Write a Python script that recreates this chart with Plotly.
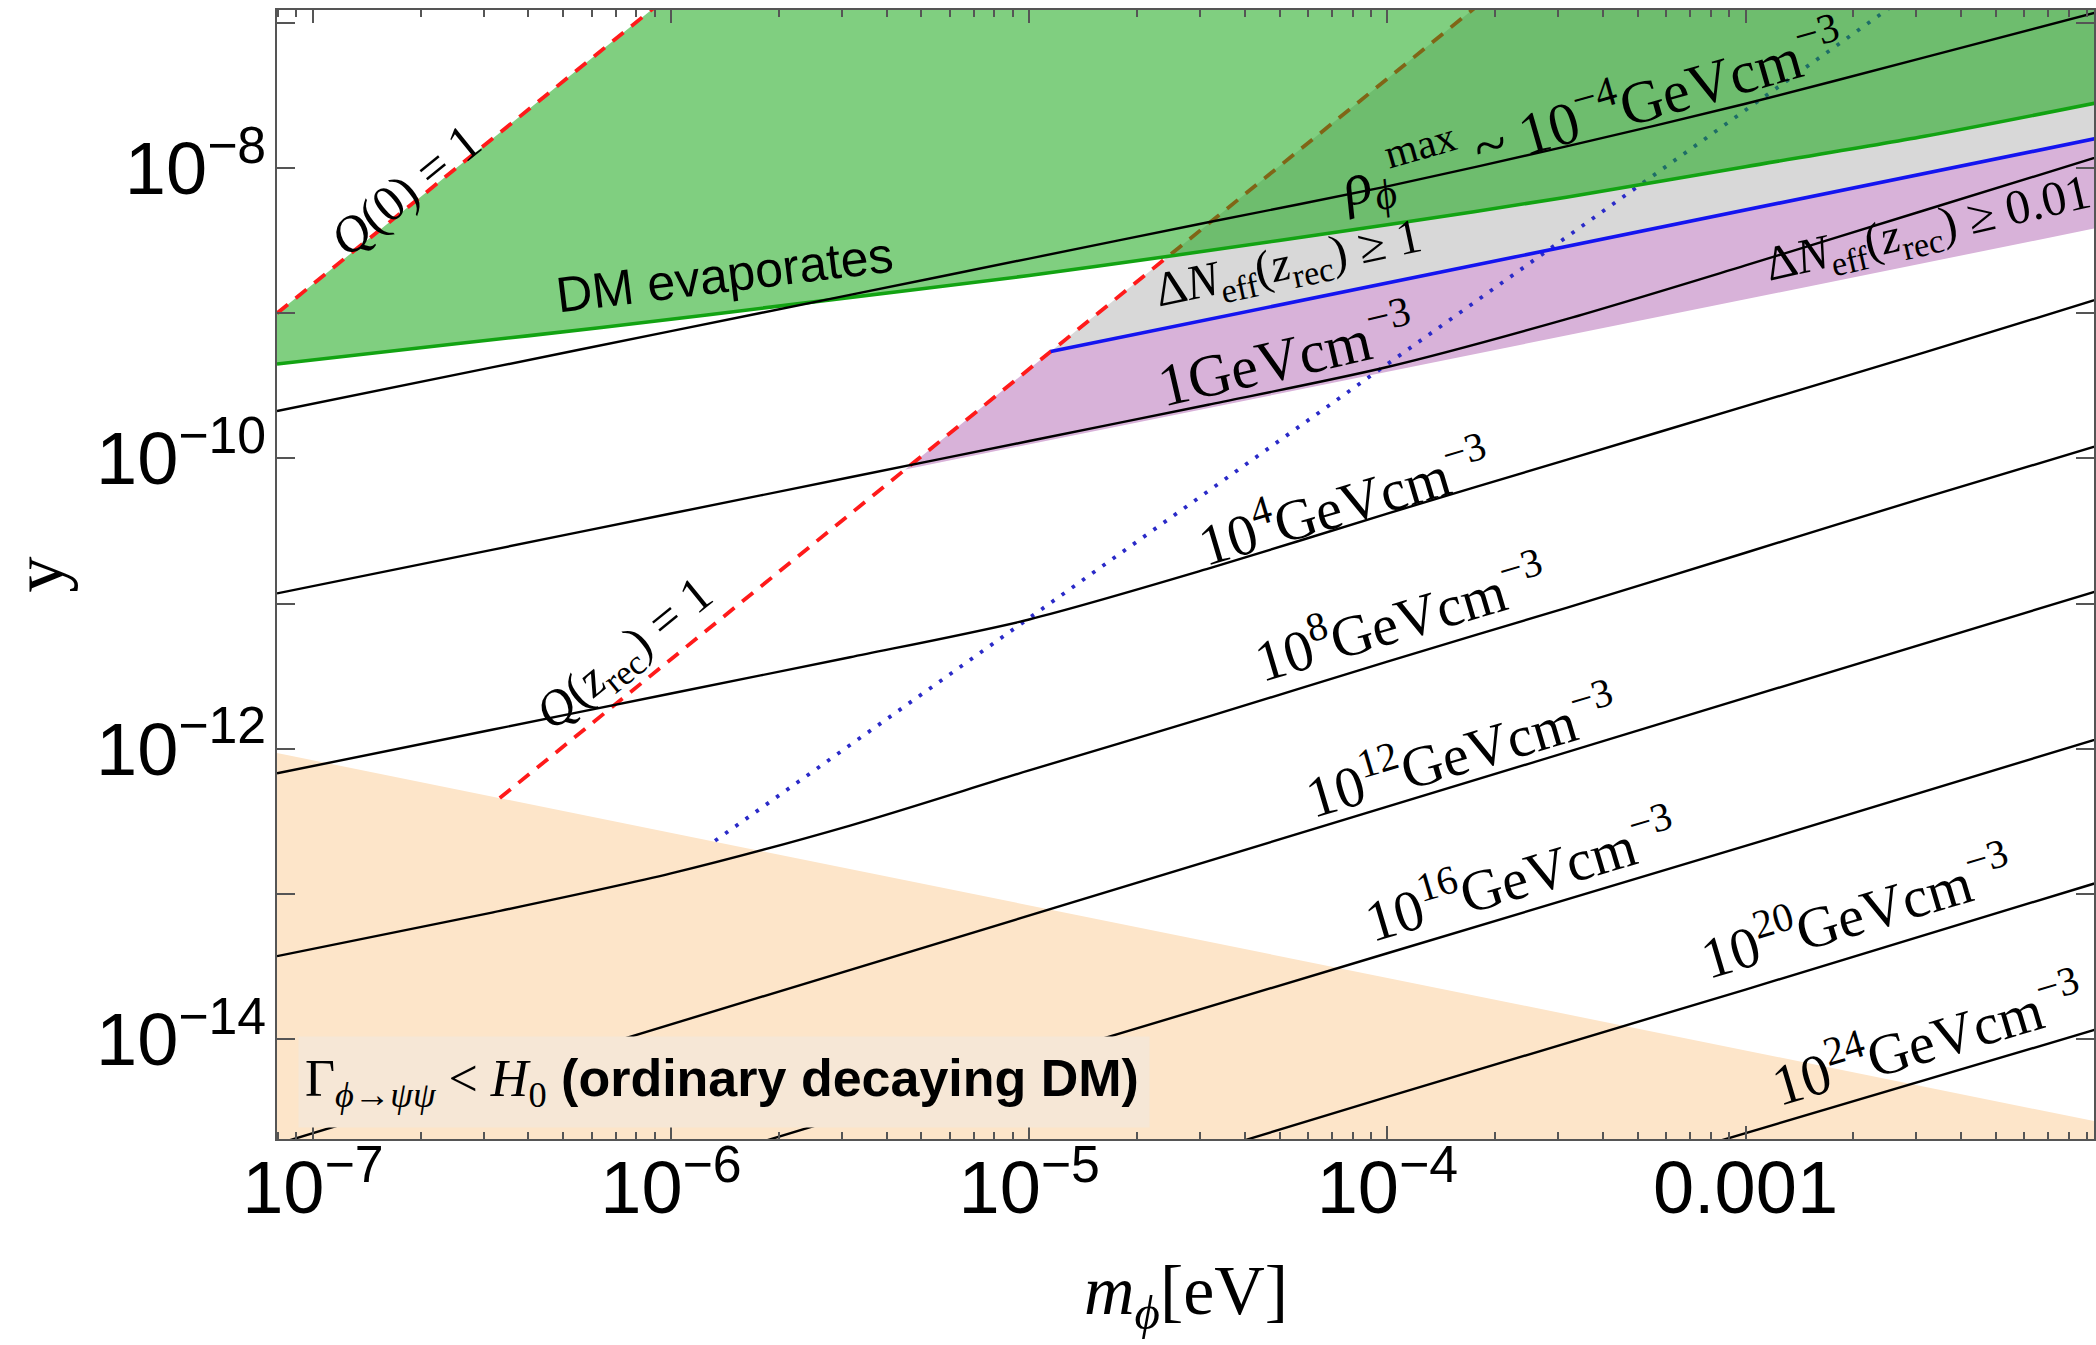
import numpy as np
import plotly.graph_objects as go

# ---------------- data (log10 values) ----------------
X_RANGE = [-7.1, -2.027]
Y_RANGE = [-14.69, -6.91]

x_tick_vals = [1e-7, 1e-6, 1e-5, 1e-4, 1e-3]
x_tick_text = ["10<sup>−7</sup>", "10<sup>−6</sup>", "10<sup>−5</sup>", "10<sup>−4</sup>", "0.001"]
x_minor_vals = [k * 10.0 ** e for e in range(-8, -2) for k in range(2, 10)]
y_tick_vals = [1e-14, 1e-12, 1e-10, 1e-8]
y_tick_text = ["10<sup>−14</sup>", "10<sup>−12</sup>", "10<sup>−10</sup>", "10<sup>−8</sup>"]
y_minor_vals = [1e-15, 1e-13, 1e-11, 1e-9, 1e-7]

# Q(0)=1 line
q0_logm = [-7.1, -5.9]
q0_logy = [-9.0, -6.6]
# Q(z_rec)=1 line
qrec_logm = [-6.478, -3.6]
qrec_logy = [-12.34, -6.584]
# "DM evaporates" boundary
evap_logm = [-7.1, -6.6, -6.2, -5.63, -5.0, -4.62, -4.0, -3.5, -3.0, -2.5, -2.0]
evap_logy = [-9.35, -9.21, -9.10, -8.93, -8.74, -8.61, -8.39, -8.20, -7.99, -7.78, -7.54]
# Delta N_eff >= 1 boundary
dn1_logm = [-4.94, -2.0]
dn1_logy = [-9.264, -7.785]
# Delta N_eff >= 0.01 lower boundary
dn001_logm = [-5.346, -2.0]
dn001_logy = [-10.076, -8.403]
# blue dotted line
dot_logm = [-5.877, -2.5]
dot_logy = [-12.635, -6.725]
# Gamma < H0 boundary
gam_logm = [-7.1, -2.0]
gam_logy = [-12.03, -14.58]

# rho contours
contour_logm = [-7.1, -6.5, -6.0, -5.5, -5.0, -4.5, -4.0, -3.5, -3.0, -2.5, -2.0]
rho_m4_logy = [-9.673, -9.373, -9.123, -8.873, -8.623, -8.373, -8.125, -7.85, -7.556, -7.237, -6.914]
rho_0_logy = [-10.93, -10.63, -10.38, -10.13, -9.88, -9.63, -9.37, -9.04, -8.67, -8.29, -7.91]
rho_4_logy = [-12.17, -11.87, -11.62, -11.37, -11.11, -10.76, -10.38, -10.01, -9.64, -9.27, -8.89]
rho_8_logy = [-13.43, -13.13, -12.86, -12.53, -12.15, -11.78, -11.40, -11.03, -10.65, -10.27, -9.90]
rho_12_logm = [-7.2, -6.0, -5.0, -4.0, -3.0, -2.0]
rho_12_logy = [-14.80, -13.90, -13.15, -12.40, -11.65, -10.90]
rho_16_logm = [-6.0, -5.0, -4.0, -3.0, -2.0]
rho_16_logy = [-14.90, -14.15, -13.41, -12.67, -11.92]
rho_20_logm = [-5.0, -4.0, -3.0, -2.0]
rho_20_logy = [-15.15, -14.40, -13.66, -12.91]
rho_24_logm = [-4.0, -3.0, -2.0]
rho_24_logy = [-15.38, -14.65, -13.92]

TOP = -6.5
BOTTOM = -15.2
RIGHT = -2.0


def p(a):
    return list(np.power(10.0, np.array(a, dtype=float)))


fig = go.Figure()


def add_fill(lm, ly, color):
    fig.add_trace(go.Scatter(x=p(lm), y=p(ly), mode="lines", fill="toself",
                             fillcolor=color, line=dict(width=0), hoverinfo="skip",
                             showlegend=False))


def add_line(lm, ly, color, width, dash="solid", shape="linear"):
    fig.add_trace(go.Scatter(x=p(lm), y=p(ly), mode="lines",
                             line=dict(color=color, width=width, dash=dash, shape=shape,
                                       smoothing=0.8 if shape == "spline" else None),
                             hoverinfo="skip", showlegend=False))


# Gamma < H0 region (beige)
add_fill(gam_logm + [RIGHT, gam_logm[0]], gam_logy + [BOTTOM, BOTTOM], "rgb(253,229,201)")

# purple region  (Delta N_eff >= 0.01)
pm = [dn001_logm[0], dn1_logm[0], dn1_logm[1], dn001_logm[1]]
py = [dn001_logy[0], dn1_logy[0], dn1_logy[1], dn001_logy[1]]
add_fill(pm, py, "rgb(216,178,217)")

# gray region (Delta N_eff >= 1)
gm = [dn1_logm[0], qrec_logm[1], RIGHT, dn1_logm[1]]
gy = [dn1_logy[0], qrec_logy[1], TOP, dn1_logy[1]]
add_fill(gm, gy, "rgb(216,216,216)")

# lines under the green layer
add_line(qrec_logm, qrec_logy, "#FF1A1A", 3.8, dash="14px,10px")
add_line(dot_logm, dot_logy, "#2A2AC8", 3.8, dash="3.5px,9px")
add_line(dn1_logm, dn1_logy, "#1414F0", 3.6)

# green region (DM evaporates), semi transparent
em = q0_logm + [RIGHT] + evap_logm[::-1]
ey = q0_logy + [TOP] + evap_logy[::-1]
add_fill(em, ey, "rgba(20,166,20,0.54)")

add_line(evap_logm, evap_logy, "#12A312", 3.6, shape="spline")
add_line(q0_logm, q0_logy, "#FF1A1A", 3.8, dash="14px,10px")

# rho contours
for lm, ly in [(contour_logm, rho_m4_logy), (contour_logm, rho_0_logy),
               (contour_logm, rho_4_logy), (contour_logm, rho_8_logy)]:
    add_line(lm, ly, "black", 2.4, shape="spline")
for lm, ly in [(rho_12_logm, rho_12_logy), (rho_16_logm, rho_16_logy),
               (rho_20_logm, rho_20_logy), (rho_24_logm, rho_24_logy)]:
    add_line(lm, ly, "black", 2.4)

SERIF = "Liberation Serif"
SANS = "Liberation Sans"
TICKFONT = "Liberation Sans"

annots = []


def lab(x, y, text, angle, size=58, family=SERIF):
    annots.append(dict(x=x, y=y, xref="x", yref="y", text=text, showarrow=False,
                       textangle=angle, xanchor="center", yanchor="middle",
                       font=dict(family=family, size=size, color="black")))


lab(-6.742, -8.15, "<i>Q</i>(0) = 1", -39, 51)
lab(-6.127, -11.36, "<i>Q</i>(<i>z</i><sub>rec</sub>) = 1", -39, 50)
lab(-5.85, -8.733, "DM evaporates", -7, 50, SANS)
lab(-4.277, -8.67, "Δ<i>N</i><sub>eff</sub>(<i>z</i><sub>rec</sub>) ≥ 1", -12, 49)
lab(-2.49, -8.43, "Δ<i>N</i><sub>eff</sub>(<i>z</i><sub>rec</sub>) ≥ 0.01", -13, 49)
lab(-3.43, -7.64, "<i>ρ</i><sub><i>ϕ</i></sub><sup>max</sup> ~ 10<sup>−4</sup>GeVcm<sup>−3</sup>", -16, 60)
lab(-4.285, -9.28, "1GeVcm<sup>−3</sup>", -13, 60)
lab(-4.121, -10.291, "10<sup>4</sup>GeVcm<sup>−3</sup>", -16.5, 58)
lab(-3.965, -11.086, "10<sup>8</sup>GeVcm<sup>−3</sup>", -16.5, 58)
lab(-3.793, -12.008, "10<sup>12</sup>GeVcm<sup>−3</sup>", -16.5, 58)
lab(-3.629, -12.857, "10<sup>16</sup>GeVcm<sup>−3</sup>", -16.5, 58)
lab(-2.691, -13.112, "10<sup>20</sup>GeVcm<sup>−3</sup>", -16.5, 58)
lab(-2.493, -13.99, "10<sup>24</sup>GeVcm<sup>−3</sup>", -16.5, 58)

# Gamma < H0 box
annots.append(dict(
    x=-5.851, y=-14.294, xref="x", yref="y", showarrow=False,
    text=('<span style="font-family:Liberation Serif">Γ<sub><i>ϕ</i>→<i>ψψ</i></sub> &lt; '
          '<i>H</i><sub>0</sub></span> <b>(ordinary decaying DM)</b>'),
    font=dict(family=SANS, size=52, color="black"),
    bgcolor="rgb(246,231,214)", borderpad=6, width=838, height=78, align="left",
    xanchor="center", yanchor="middle"))

# axis titles
annots.append(dict(x=-0.131, y=0.5, xref="paper", yref="paper", text="y", showarrow=False,
                   textangle=-90, font=dict(family=SERIF, size=72, color="black"),
                   xanchor="center", yanchor="middle"))
annots.append(dict(x=0.5, y=-0.139, xref="paper", yref="paper",
                   text="<i>m</i><sub><i>ϕ</i></sub>[eV]", showarrow=False,
                   font=dict(family=SERIF, size=70, color="black"),
                   xanchor="center", yanchor="middle"))

AX = "#555555"
fig.update_layout(
    width=2096, height=1345,
    margin=dict(l=277, r=0, t=10, b=206),
    plot_bgcolor="white", paper_bgcolor="white",
    showlegend=False,
    annotations=annots,
    xaxis=dict(type="log", range=X_RANGE, tickvals=x_tick_vals, ticktext=x_tick_text,
               ticks="inside", ticklen=13, tickwidth=2, tickcolor=AX,
               showline=True, linewidth=2, linecolor=AX, mirror="ticks",
               showgrid=False, zeroline=False, ticklabelstandoff=-17,
               tickfont=dict(family=TICKFONT, size=74, color="black"),
               minor=dict(tickvals=x_minor_vals, ticks="inside", ticklen=7,
                          tickwidth=1.5, tickcolor=AX, showgrid=False)),
    yaxis=dict(type="log", range=Y_RANGE, tickvals=y_tick_vals, ticktext=y_tick_text,
               ticks="inside", ticklen=18, tickwidth=2, tickcolor=AX,
               showline=True, linewidth=2, linecolor=AX, mirror="ticks",
               showgrid=False, zeroline=False, ticklabelstandoff=-6,
               tickfont=dict(family=TICKFONT, size=74, color="black"),
               minor=dict(tickvals=y_minor_vals, ticks="inside", ticklen=18,
                          tickwidth=2, tickcolor=AX, showgrid=False)),
)

fig.write_html("out.html", config={"displayModeBar": False},
               post_script="document.body.style.margin='0';document.body.style.overflow='hidden';")
